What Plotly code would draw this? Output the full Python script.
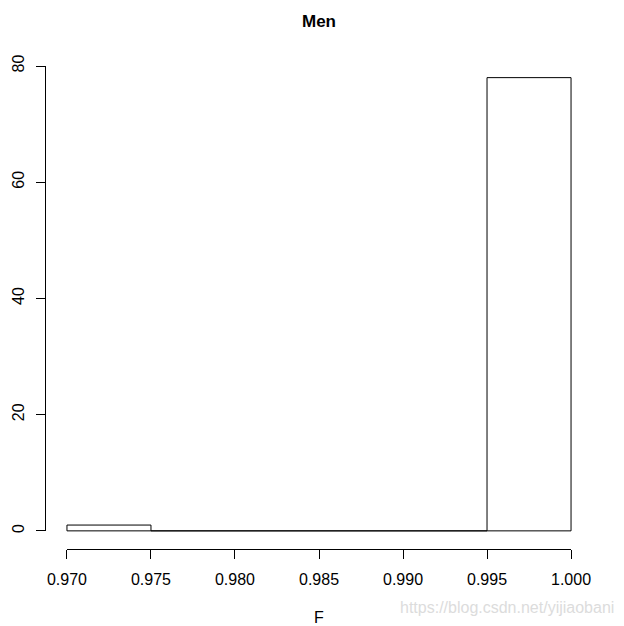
import plotly.graph_objects as go

bin_edges = [0.970, 0.975, 0.980, 0.985, 0.990, 0.995, 1.000]
counts = [1, 0, 0, 0, 0, 78]
x_ticks = [0.970, 0.975, 0.980, 0.985, 0.990, 0.995, 1.000]
x_tick_labels = ["0.970", "0.975", "0.980", "0.985", "0.990", "0.995", "1.000"]
y_ticks = [0, 20, 40, 60, 80]
y_tick_labels = ["0", "20", "40", "60", "80"]

# page is offset by the 8px body margin
OFF = 8
W, H = 624 - OFF, 626 - OFF

# build rectangle outlines for each bin (R-style hist)
xs, ys = [], []
for i, c in enumerate(counts):
    l, r = bin_edges[i], bin_edges[i + 1]
    xs += [l, l, r, r, l, None]
    ys += [0, c, c, 0, 0, None]

xmin, xmax = bin_edges[0], bin_edges[-1]
ymin, ymax = 0, max(counts)
dx = (xmax - xmin) * 0.04
dy = (ymax - ymin) * 0.04
xr = [xmin - dx, xmax + dx]
yr = [ymin - dy, ymax + dy]

# plot region in (figure) pixels
px_l, px_r = 46.8 - OFF, 591.2 - OFF
py_t, py_b = 59.5 - OFF, 549.0 - OFF
sx = (px_r - px_l) / (xr[1] - xr[0])
sy = (py_b - py_t) / (yr[1] - yr[0])

def xpix(v):
    return px_l + (v - xr[0]) * sx

def ypix(v):
    return py_b - (v - yr[0]) * sy

fig = go.Figure()
fig.add_trace(go.Scatter(x=xs, y=ys, mode="lines", line=dict(color="black", width=1),
                         hoverinfo="skip", showlegend=False, xaxis="x", yaxis="y"))
fig.add_trace(go.Scatter(x=[], y=[], mode="lines", showlegend=False, xaxis="x2", yaxis="y2"))

FAM = "Liberation Sans, Arial, sans-serif"
font = dict(family=FAM, color="black")

fig.update_layout(
    width=W, height=H,
    margin=dict(l=0, r=0, t=0, b=0, autoexpand=False),
    paper_bgcolor="white", plot_bgcolor="rgba(0,0,0,0)",
    font=dict(size=16, **font),
    showlegend=False,
    title=dict(text="<b>Men</b>", x=(px_l + px_r) / 2 / W, xanchor="center",
               y=1 - (21 - OFF) / H, yanchor="middle", font=dict(size=17, **font)),
    xaxis=dict(domain=[px_l / W, px_r / W], range=xr, visible=False, fixedrange=True,
               automargin=False),
    yaxis=dict(domain=[1 - py_b / H, 1 - py_t / H], range=yr, visible=False, fixedrange=True,
               automargin=False),
    xaxis2=dict(
        domain=[xpix(xmin) / W, xpix(xmax) / W], range=[xmin, xmax],
        anchor="free", position=1 - py_b / H, automargin=False, fixedrange=True,
        showline=True, linecolor="black", linewidth=1, mirror=False,
        showgrid=False, zeroline=False,
        ticks="outside", ticklen=9, tickwidth=1, tickcolor="black",
        tickvals=x_ticks, ticktext=x_tick_labels, tickfont=dict(size=16, **font),
        ticklabelstandoff=7,
        title=dict(text="F", font=dict(size=16, **font), standoff=25),
    ),
    yaxis2=dict(
        domain=[1 - ypix(0) / H, 1 - ypix(80) / H],
        range=[0, 80],
        anchor="free", position=(px_l - 1.5) / W, automargin=False, fixedrange=True,
        showline=True, linecolor="black", linewidth=1, mirror=False,
        showgrid=False, zeroline=False,
        ticks="outside", ticklen=9, tickwidth=1, tickcolor="black",
        tickvals=y_ticks, ticktext=y_tick_labels, tickangle=-90,
        tickfont=dict(size=16, **font), ticklabelstandoff=6,
    ),
    annotations=[dict(text="https://blog.csdn.net/yijiaobani", xref="paper", yref="paper",
                      x=(616 - OFF) / W, y=1 - (607 - OFF) / H, xanchor="right", yanchor="middle",
                      showarrow=False, font=dict(size=16, family=FAM, color="#dcdcdc"))],
)

fig.write_html("out.html")
